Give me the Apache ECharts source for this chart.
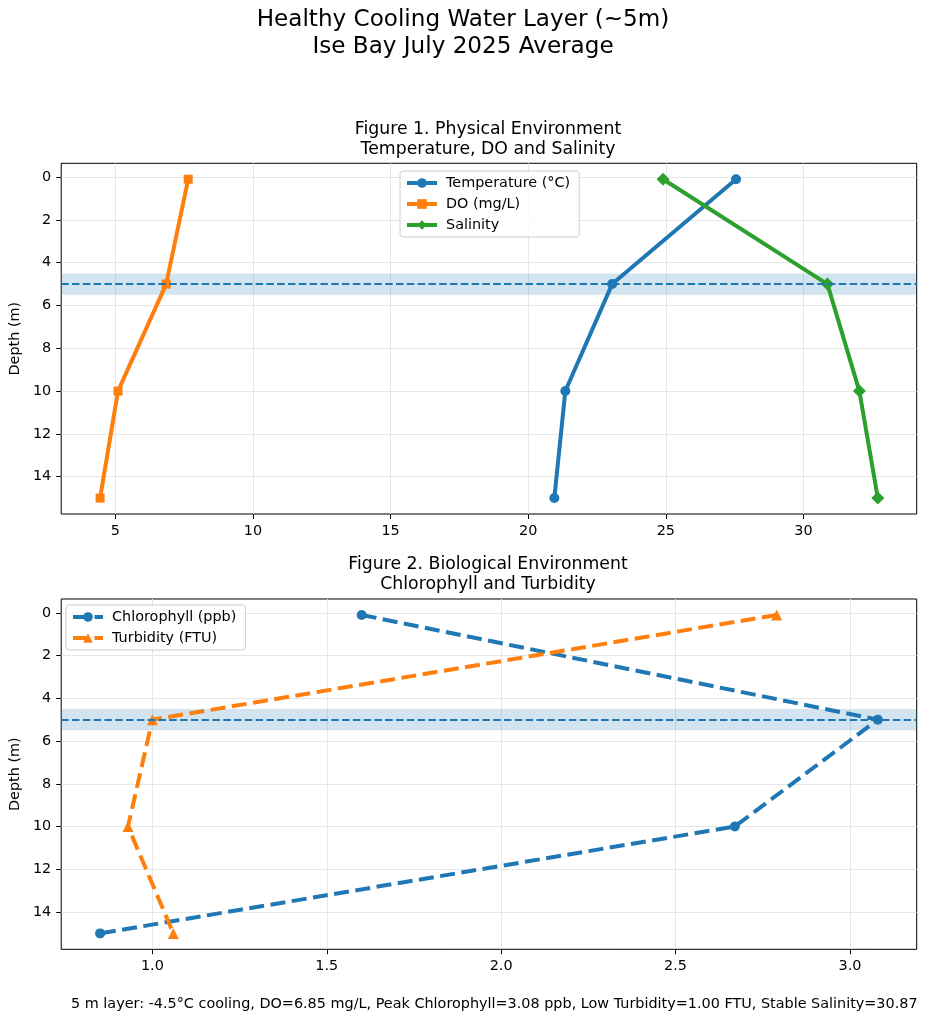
<!doctype html>
<html>
<head>
<meta charset="utf-8">
<title>Healthy Cooling Water Layer - Ise Bay July 2025</title>
<script src="https://cdn.jsdelivr.net/npm/echarts@6/dist/echarts.min.js"></script>
<style>
  html, body { margin: 0; padding: 0; background: #fff; }
  #chart { width: 931px; height: 1024px; }
</style>
</head>
<body>
<div id="chart"></div>
<script>
// depth profile (m) and measured values
var depths = [0.1, 5, 10, 15];
var temperature = [27.55, 23.05, 21.35, 20.95];
var dissolvedOxygen = [7.65, 6.85, 5.1, 4.45];
var salinity = [24.9, 30.87, 32.03, 32.7];
var chlorophyll = [1.60, 3.08, 2.67, 0.85];
var turbidity = [2.79, 1.00, 0.93, 1.06];

// tick labels
var physTicks = [5, 10, 15, 20, 25, 30];
var bioTicks = [1.0, 1.5, 2.0, 2.5, 3.0];
var depthTicks = [0, 2, 4, 6, 8, 10, 12, 14];

// highlighted layer
var layerDepth = 5;
var layerBand = [4.5, 5.5];

var FONT = 'DejaVu Sans';
var BLUE = '#1f77b4', ORANGE = '#ff7f0e', GREEN = '#2ca02c';
var TICK_FS = 14.4;

function pairs(values) {
  return depths.map(function (d, i) { return [values[i], d]; });
}
// matplotlib style 5% margins
function limits(arr) {
  var lo = Math.min.apply(null, arr), hi = Math.max.apply(null, arr);
  var m = (hi - lo) * 0.05;
  return [lo - m, hi + m];
}

var physX = limits(temperature.concat(dissolvedOxygen, salinity));
var bioX = limits(chlorophyll.concat(turbidity));
var depthY = limits(depths);

var diamond = 'path://M0,-1L1,0L0,1L-1,0Z';
var DASH = [15, 6.5];

function xAxis(idx, lim, ticks, fmt) {
  return {
    type: 'value', gridIndex: idx, min: lim[0], max: lim[1],
    axisLine: { show: false, onZero: false },
    axisTick: { show: true, length: 5, customValues: ticks, lineStyle: { color: '#000', width: 1 } },
    axisLabel: { customValues: ticks, margin: 10, color: '#000', fontFamily: FONT, fontSize: TICK_FS, formatter: fmt },
    splitLine: { show: true, lineStyle: { color: '#e6e6e6', width: 1 } }
  };
}
function yAxis(idx) {
  return {
    type: 'value', gridIndex: idx, inverse: true, min: depthY[0], max: depthY[1],
    name: 'Depth (m)', nameLocation: 'middle', nameGap: 35, nameRotate: 90,
    nameTextStyle: { color: '#000', fontFamily: FONT, fontSize: TICK_FS },
    axisLine: { show: false, onZero: false },
    axisTick: { show: true, length: 5, customValues: depthTicks, lineStyle: { color: '#000', width: 1 } },
    axisLabel: { customValues: depthTicks, margin: 10, color: '#000', fontFamily: FONT, fontSize: TICK_FS },
    splitLine: { show: true, lineStyle: { color: '#e6e6e6', width: 1 } }
  };
}
function layerMarks(idx) {
  return {
    type: 'line', xAxisIndex: idx, yAxisIndex: idx, data: [], z: 1, silent: true,
    markArea: {
      silent: true, itemStyle: { color: 'rgba(31,119,180,0.2)' },
      data: [[{ yAxis: layerBand[0] }, { yAxis: layerBand[1] }]]
    },
    markLine: {
      silent: true, symbol: 'none', label: { show: false },
      lineStyle: { color: BLUE, type: [7.5, 3.3], width: 2 },
      data: [{ yAxis: layerDepth }]
    }
  };
}
function profile(name, idx, values, color, symbol, size, dashed) {
  return {
    name: name, type: 'line', xAxisIndex: idx, yAxisIndex: idx, z: 3,
    data: pairs(values), symbol: symbol, symbolSize: size, showSymbol: true,
    lineStyle: { color: color, width: 4, type: dashed ? DASH : 'solid' },
    itemStyle: { color: color, borderWidth: 0 },
    emphasis: { disabled: true }
  };
}
function legend(names, left, top, dashed) {
  return {
    data: names, orient: 'vertical', left: left, top: top,
    itemWidth: 30, itemHeight: 12, itemGap: 7, padding: [5, 9, 5, 5],
    backgroundColor: 'rgba(255,255,255,0.8)', borderColor: '#cccccc', borderWidth: 1, borderRadius: 3,
    lineStyle: { width: 4, type: dashed ? DASH : 'solid' },
    textStyle: { fontFamily: FONT, fontSize: TICK_FS, color: '#000', padding: [0, 0, 0, 4] }
  };
}

var chart = echarts.init(document.getElementById('chart'), null, { renderer: 'canvas' });

var option = {
  backgroundColor: '#fff',
  animation: false,
  title: [
    { text: 'Healthy Cooling Water Layer (~5m)\nIse Bay July 2025 Average', left: 463, top: 7, textAlign: 'center', padding: 0,
      textStyle: { fontFamily: FONT, fontSize: 23.1, fontWeight: 'normal', color: '#000', lineHeight: 26.5 } },
    { text: 'Figure 1. Physical Environment\nTemperature, DO and Salinity', left: 488, top: 120, textAlign: 'center', padding: 0,
      textStyle: { fontFamily: FONT, fontSize: 17.3, fontWeight: 'normal', color: '#000', lineHeight: 19.5 } },
    { text: 'Figure 2. Biological Environment\nChlorophyll and Turbidity', left: 488, top: 555, textAlign: 'center', padding: 0,
      textStyle: { fontFamily: FONT, fontSize: 17.3, fontWeight: 'normal', color: '#000', lineHeight: 19.5 } },
    { text: '5 m layer: -4.5°C cooling, DO=6.85 mg/L, Peak Chlorophyll=3.08 ppb, Low Turbidity=1.00 FTU, Stable Salinity=30.87',
      left: 71, top: 997, padding: 0,
      textStyle: { fontFamily: FONT, fontSize: 14.4, fontWeight: 'normal', color: '#000' } }
  ],
  legend: [
    legend(['Temperature (°C)', 'DO (mg/L)', 'Salinity'], 400, 171, false),
    legend(['Chlorophyll (ppb)', 'Turbidity (FTU)'], 66, 605, true)
  ],
  grid: [
    { left: 59.3, right: 14.3, top: 163.3, height: 350.7, show: true, borderColor: '#000', borderWidth: 1, backgroundColor: 'transparent' },
    { left: 59.3, right: 14.3, top: 599, height: 350.3, show: true, borderColor: '#000', borderWidth: 1, backgroundColor: 'transparent' }
  ],
  xAxis: [
    xAxis(0, physX, physTicks, function (v) { return String(v); }),
    xAxis(1, bioX, bioTicks, function (v) { return v.toFixed(1); })
  ],
  yAxis: [yAxis(0), yAxis(1)],
  series: [
    layerMarks(0),
    profile('Temperature (°C)', 0, temperature, BLUE, 'circle', 10, false),
    profile('DO (mg/L)', 0, dissolvedOxygen, ORANGE, 'rect', 9, false),
    profile('Salinity', 0, salinity, GREEN, diamond, 13, false),
    layerMarks(1),
    profile('Chlorophyll (ppb)', 1, chlorophyll, BLUE, 'circle', 10, true),
    profile('Turbidity (FTU)', 1, turbidity, ORANGE, 'triangle', 11, true)
  ]
};

chart.setOption(option);
</script>
</body>
</html>
